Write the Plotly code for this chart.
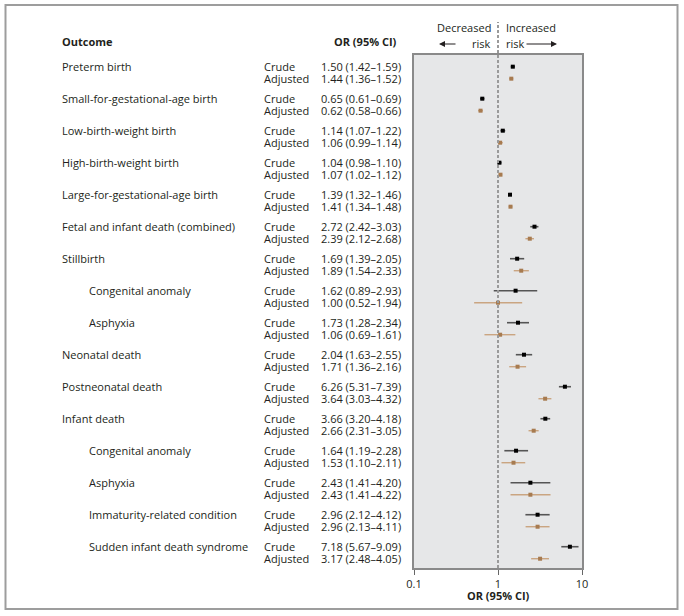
import plotly.graph_objects as go

outcomes = ["Preterm birth", "Small-for-gestational-age birth", "Low-birth-weight birth",
            "High-birth-weight birth", "Large-for-gestational-age birth",
            "Fetal and infant death (combined)", "Stillbirth", "Congenital anomaly", "Asphyxia",
            "Neonatal death", "Postneonatal death", "Infant death", "Congenital anomaly",
            "Asphyxia", "Immaturity-related condition", "Sudden infant death syndrome"]
indented = [False, False, False, False, False, False, False, True, True,
            False, False, False, True, True, True, True]

crude_or = [1.50, 0.65, 1.14, 1.04, 1.39, 2.72, 1.69, 1.62, 1.73, 2.04, 6.26, 3.66, 1.64, 2.43, 2.96, 7.18]
crude_lo = [1.42, 0.61, 1.07, 0.98, 1.32, 2.42, 1.39, 0.89, 1.28, 1.63, 5.31, 3.20, 1.19, 1.41, 2.12, 5.67]
crude_hi = [1.59, 0.69, 1.22, 1.10, 1.46, 3.03, 2.05, 2.93, 2.34, 2.55, 7.39, 4.18, 2.28, 4.20, 4.12, 9.09]

adj_or = [1.44, 0.62, 1.06, 1.07, 1.41, 2.39, 1.89, 1.00, 1.06, 1.71, 3.64, 2.66, 1.53, 2.43, 2.96, 3.17]
adj_lo = [1.36, 0.58, 0.99, 1.02, 1.34, 2.12, 1.54, 0.52, 0.69, 1.36, 3.03, 2.31, 1.10, 1.41, 2.13, 2.48]
adj_hi = [1.52, 0.66, 1.14, 1.12, 1.48, 2.68, 2.33, 1.94, 1.61, 2.16, 4.32, 3.05, 2.11, 4.22, 4.11, 4.05]

tick_vals = [0.1, 1, 10]
tick_text = ["0.1", "1", "10"]

W, H = 684, 616
L, R, T, B = 414, 102, 55, 48
PW, PH = W - L - R, H - T - B
ADJ_OFF = 0.375

def xp(px):
    return (px - L) / PW

def yp(py):
    return (H - B - py) / PH

TXT = "#231f20"
CRUDE_C = "#000000"
CRUDE_LINE = "#555555"
ADJ_C = "#a77b50"
ADJ_LINE = "#caa581"
FONT = "Open Sans"

fig = go.Figure()

n = len(outcomes)
rows_c = list(range(n))
rows_a = [i + ADJ_OFF for i in range(n)]

def ci_xy(lo, hi, rows):
    xs, ys = [], []
    for a, b, r in zip(lo, hi, rows):
        xs += [a, b, None]
        ys += [r, r, None]
    return xs, ys

x, y = ci_xy(crude_lo, crude_hi, rows_c)
fig.add_trace(go.Scatter(x=x, y=y, mode="lines", line=dict(color=CRUDE_LINE, width=1.6),
                         hoverinfo="skip", showlegend=False))
x, y = ci_xy(adj_lo, adj_hi, rows_a)
fig.add_trace(go.Scatter(x=x, y=y, mode="lines", line=dict(color=ADJ_LINE, width=1.4),
                         hoverinfo="skip", showlegend=False))
fig.add_trace(go.Scatter(x=crude_or, y=rows_c, mode="markers",
                         marker=dict(symbol="square", size=4, color=CRUDE_C),
                         name="Crude", showlegend=False))
fig.add_trace(go.Scatter(x=adj_or, y=rows_a, mode="markers",
                         marker=dict(symbol="square", size=4, color=ADJ_C),
                         name="Adjusted", showlegend=False))

ann = []
def text(xv, yv, s, xanchor="left", yref="y", size=11, bold=False):
    ann.append(dict(x=xv, y=yv, xref="paper", yref=yref, text=("<b>%s</b>" % s) if bold else s,
                    showarrow=False, xanchor=xanchor, yanchor="middle", borderpad=0,
                    font=dict(family=FONT, size=size, color=TXT)))

for i in range(n):
    text(xp(88 if indented[i] else 61), rows_c[i], outcomes[i])
    text(xp(263), rows_c[i], "Crude")
    text(xp(263), rows_a[i], "Adjusted")
    text(xp(320), rows_c[i], "%.2f (%.2f\u2013%.2f)" % (crude_or[i], crude_lo[i], crude_hi[i]))
    text(xp(320), rows_a[i], "%.2f (%.2f\u2013%.2f)" % (adj_or[i], adj_lo[i], adj_hi[i]))

text(xp(61), yp(42), "Outcome", yref="paper", bold=True)
text(xp(398), yp(42), "OR (95% CI)", xanchor="right", yref="paper", bold=True)
text(xp(491.5), yp(27), "Decreased", xanchor="right", yref="paper")
text(xp(491.5), yp(43), "risk", xanchor="right", yref="paper")
text(xp(505), yp(27), "Increased", xanchor="left", yref="paper")
text(xp(505), yp(43), "risk", xanchor="left", yref="paper")
text(0.5, yp(595), "OR (95% CI)", xanchor="center", yref="paper", bold=True)

ann.append(dict(x=xp(439), y=yp(44), xref="paper", yref="paper", ax=18, ay=0,
                showarrow=True, arrowhead=2, arrowsize=1, arrowwidth=1.2, arrowcolor=TXT, text=""))
ann.append(dict(x=xp(557), y=yp(44), xref="paper", yref="paper", ax=-32, ay=0,
                showarrow=True, arrowhead=2, arrowsize=1, arrowwidth=1.2, arrowcolor=TXT, text=""))

shapes = [
    dict(type="line", xref="paper", yref="paper", x0=0.5, x1=0.5, y0=0, y1=yp(22),
         line=dict(color="#9a9a9a", width=2, dash="3px,2px"), layer="above"),
    dict(type="rect", xref="paper", yref="paper", x0=xp(5.5), x1=xp(677.5), y0=yp(609), y1=yp(5),
         line=dict(color="#9d9d9d", width=2), layer="below"),
]

fig.update_layout(
    width=W, height=H, margin=dict(l=L, r=R, t=T, b=B),
    paper_bgcolor="white", plot_bgcolor="#e6e7e8",
    annotations=ann, shapes=shapes, showlegend=False,
    xaxis=dict(type="log", range=[-1, 1], tickvals=tick_vals, ticktext=tick_text,
               ticks="outside", ticklen=5, tickcolor="#666666", tickwidth=1.2,
               showgrid=False, zeroline=False, showline=True, mirror=True,
               linecolor="#8a8a8a", linewidth=1.5,
               tickfont=dict(family=FONT, size=11, color=TXT)),
    yaxis=dict(range=[15.665, -0.365], showticklabels=False, showgrid=False, zeroline=False,
               showline=True, mirror=True, linecolor="#8a8a8a", linewidth=1.5, ticks=""),
)

fig.write_html("out.html", config={"displayModeBar": False},
               post_script="document.body.style.margin='0';document.body.style.overflow='hidden';")
